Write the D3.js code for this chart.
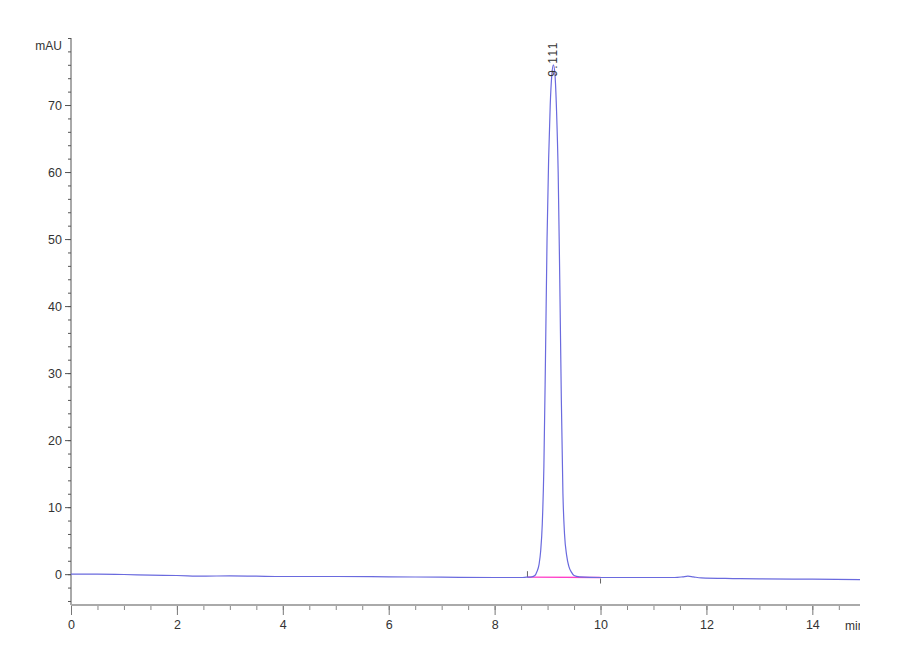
<!DOCTYPE html>
<meta charset="utf-8">
<style>
body { margin: 0; background: #fff; }
text { font-family: "Liberation Sans", Arial, sans-serif; fill: #333; }
</style>
<body>
<script src="https://cdn.jsdelivr.net/npm/d3@7"></script>
<script>

// retention time (min) and signal (mAU)
var times = [0, 0.5, 1.0, 1.5, 2.0, 2.5, 3.0, 3.5, 4.0, 5.0, 6.0, 7.0, 8.0, 8.5,
  8.60, 8.70, 8.76, 8.80, 8.84, 8.87, 8.90, 8.93, 8.96, 8.99, 9.02, 9.05, 9.08, 9.11,
  9.14, 9.17, 9.20, 9.23, 9.26, 9.29, 9.32, 9.36, 9.40, 9.45, 9.50, 9.60,
  10.0, 10.5, 11.0, 11.4, 11.55, 11.65, 11.75, 11.9, 12.5, 13.0, 14.0, 14.9];
var signal = [0, 0, -0.05, -0.15, -0.2, -0.3, -0.25, -0.3, -0.35, -0.35, -0.4, -0.45, -0.5, -0.5,
  -0.45, -0.4, -0.2, 0.4, 1.5, 3.5, 7.5, 16, 32, 50, 62, 70, 74.5, 76,
  74.5, 69, 60, 44, 26, 12, 6, 2.8, 1.2, 0.3, -0.2, -0.4,
  -0.5, -0.5, -0.5, -0.5, -0.4, -0.3, -0.4, -0.55, -0.65, -0.7, -0.75, -0.8];

// integration baseline under the peak
var baseTimes = [8.62, 10.0];
var baseValues = [-0.45, -0.5];

var peakTime = 9.111, peakValue = 76, peakLabel = "9.111";

var yMajor = [0, 10, 20, 30, 40, 50, 60, 70];
var xMajor = [0, 2, 4, 6, 8, 10, 12, 14];

var width = 900, height = 660;

var x = d3.scaleLinear().domain([0, 14.9]).range([71, 860]);
var y = d3.scaleLinear().domain([-4.6, 80]).range([605, 38]);

var svg = d3.select("body").append("svg")
    .attr("width", width)
    .attr("height", height);

// y axis, minor ticks every 2
var yMinor = d3.range(-4, 81, 2);
svg.append("g")
    .attr("transform", "translate(71,0)")
    .call(d3.axisLeft(y).tickValues(yMinor).tickSize(3).tickFormat(""))
    .call(function(g) { g.select(".domain").remove(); })
    .selectAll("line").attr("stroke", "#555");

svg.append("g")
    .attr("transform", "translate(71,0)")
    .call(d3.axisLeft(y).tickValues(yMajor).tickSize(6).tickPadding(3))
    .call(function(g) { g.select(".domain").remove(); })
    .call(function(g) {
      g.selectAll("line").attr("stroke", "#555");
      g.selectAll("text").attr("font-size", 12.5).attr("fill", "#333")
        .attr("font-family", "Liberation Sans, Arial, sans-serif");
    });

svg.append("line")
    .attr("x1", 71).attr("x2", 71)
    .attr("y1", y(80)).attr("y2", 605)
    .attr("stroke", "#555");

svg.append("text")
    .attr("x", 62).attr("y", 50)
    .attr("text-anchor", "end")
    .attr("font-size", 12)
    .text("mAU");

// x axis
var xMinorVals = d3.range(0, 14.51, 0.5);
svg.append("g")
    .attr("transform", "translate(0,605)")
    .call(d3.axisBottom(x).tickValues(xMinorVals).tickSize(5).tickFormat(""))
    .call(function(g) { g.select(".domain").remove(); })
    .selectAll("line").attr("stroke", "#888");

svg.append("g")
    .attr("transform", "translate(0,605)")
    .call(d3.axisBottom(x).tickValues(xMajor).tickSize(10).tickPadding(5))
    .call(function(g) { g.select(".domain").remove(); })
    .call(function(g) {
      g.selectAll("line").attr("stroke", "#777");
      g.selectAll("text").attr("font-size", 12.5).attr("fill", "#333")
        .attr("font-family", "Liberation Sans, Arial, sans-serif");
    });

svg.append("line")
    .attr("x1", 71).attr("x2", 860)
    .attr("y1", 605).attr("y2", 605)
    .attr("stroke", "#aaa")
    .attr("stroke-width", 2);

svg.append("clipPath").attr("id", "unitclip")
  .append("rect").attr("x", 800).attr("y", 610).attr("width", 60).attr("height", 30);

svg.append("text")
    .attr("x", 845).attr("y", 630)
    .attr("font-size", 12)
    .attr("clip-path", "url(#unitclip)")
    .text("min");

// integration baseline and its start/end marks
svg.append("line")
    .attr("x1", x(baseTimes[0])).attr("x2", x(baseTimes[1]))
    .attr("y1", y(baseValues[0])).attr("y2", y(baseValues[1]))
    .attr("stroke", "#ff40c8")
    .attr("stroke-width", 1.3);

svg.append("line")
    .attr("x1", x(baseTimes[0])).attr("x2", x(baseTimes[0]))
    .attr("y1", y(baseValues[0]) - 6).attr("y2", y(baseValues[0]))
    .attr("stroke", "#666");

svg.append("line")
    .attr("x1", x(baseTimes[1])).attr("x2", x(baseTimes[1]))
    .attr("y1", y(baseValues[1]) + 1).attr("y2", y(baseValues[1]) + 6)
    .attr("stroke", "#666");

// chromatogram trace
var pts = times.map(function(t, i) { return [t, signal[i]]; });
var line = d3.line()
    .x(function(d) { return x(d[0]); })
    .y(function(d) { return y(d[1]); })
    .curve(d3.curveMonotoneX);

svg.append("path")
    .datum(pts)
    .attr("fill", "none")
    .attr("stroke", "#6a6ade")
    .attr("stroke-width", 1.2)
    .attr("d", line);

// peak label
var lx = x(peakTime) + 4, ly = y(peakValue) + 12;
svg.append("text")
    .attr("transform", "translate(" + lx + "," + ly + ") rotate(-90)")
    .attr("font-size", 12)
    .attr("letter-spacing", 1.5)
    .attr("fill", "#333")
    .text(peakLabel);

</script>
